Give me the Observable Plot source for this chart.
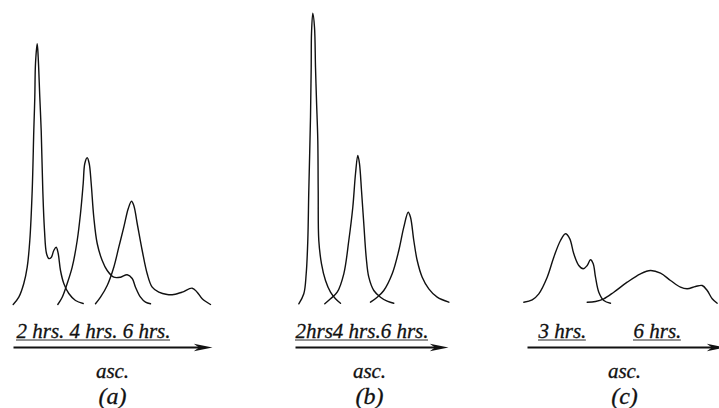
<!DOCTYPE html>
<html>
<head>
<meta charset="utf-8">
<script src="https://cdn.jsdelivr.net/npm/d3@7"></script>
<script src="https://cdn.jsdelivr.net/npm/@observablehq/plot@0.6"></script>
<style>
  html, body { margin: 0; padding: 0; background: #fff; overflow: hidden; }
  #chart svg { display: block; }
</style>
</head>
<body>
<div id="chart"></div>
<script>
// ---- Panel (a): elution position vs. absorbance, three fractions ----
const a2hPos = [12.7,18.3,23.3,26.7,29.3,31.7,33.3,34.3,35,36.7,37.7,39.3,40.7,42.3,44,46,48.3,50.7,53.3,55.7,57.7,60,63.3,68.3,75,82.7];
const a2hAbs = [0,7.3,21,37.3,64,114,174,207.3,241,260.7,247.3,207.3,174,114,74,51,46,47,54,57.3,51,34,21,11,4,1];
const a4hPos = [57.3,61.7,66.7,71.7,76.7,80,82.7,84.3,86.7,88.7,90.7,93.3,96.7,101.7,106.7,113.3,120,126.7,131.7,135,140,145,150];
const a4hAbs = [0,7.3,21,37.3,64,91,121,141,146.7,141,121,87.3,61,44,34,27.3,27.3,29.7,26,17.3,7.3,2.3,0.7];
const a6hPos = [95,100,106.7,113.3,118.3,123.3,127.7,131,133.3,136.7,141.7,146.7,151.7,158.3,166.7,173.3,181.7,191.7,196.7,201.7,210];
const a6hAbs = [0.7,7.3,19,37.3,57.3,77.3,95.7,103.3,99,81,54,30.7,17.3,12.3,10,10,12.3,16.3,12.3,5.7,0];

// ---- Panel (b) ----
const b2hPos = [298.3,303.3,305.7,307.3,308.3,310,310.7,311,312.3,314,315,316,317.3,317.7,318.3,321,325,330,335,340];
const b2hAbs = [0.7,10.7,30.7,64,114,187.3,237.3,271,291.3,277.3,237.3,204,164,114,64,40.7,24,12.3,5.7,1.3];
const b4hPos = [324.3,330,336.7,343.3,348.3,352.3,355,357.3,359,361,363.3,365.7,368.3,373.3,380,386.7,393.3];
const b4hAbs = [0.7,5.7,12.3,30.7,64,97.3,130.7,149,140.7,114,80.7,47.3,27.3,14,7.3,3.3,1.3];
const b6hPos = [370,376.7,383.3,391.7,398.3,403.3,407.7,410,413.3,416.7,421.7,428.3,436.7,448.3];
const b6hAbs = [2.3,7.3,14,30.7,54,77.3,92.3,87.3,64,44,27.3,15.7,7.3,2.3];

// ---- Panel (c) ----
const c3hPos = [523.3,531.7,538.3,546.7,553.3,560,565,569.3,573.3,578.3,582.7,586.7,590,592.7,595,598.3,603.3,610];
const c3hAbs = [2.3,4.7,10.7,27.3,47.3,64,70.7,65.7,50.7,39,35.7,39,44.7,40.7,27.3,12.3,4,1.3];
const c6hPos = [586.7,595,603.3,613.3,626.7,640,650,660,670,680,686.7,695,701.7,706.7,711.7,716.7];
const c6hAbs = [2.3,3,5.7,12.3,22.3,30.7,34,31.3,24,17.3,15.7,18,19,14,5.7,1.3];

// ---- Texts ----
const timeLabelText = ["2 hrs. 4 hrs. 6 hrs.", "2hrs4 hrs.6 hrs.", "3 hrs.", "6 hrs."];
const timeLabelPos  = [16, 295, 538, 633];
const arrowStart = [13, 295, 527];
const arrowEnd   = [212, 448, 725];
const panelNames  = ["(a)", "(b)", "(c)"];
const panelCenter = [112, 369, 624];
const directionText = "asc.";

// level (in absorbance units, below baseline) of text rows
const labelLevel = -33, underlineLevel = -35.5, arrowLevel = -43, ascLevel = -73.5, panelLevel = -99;

const ink = "#111";
const serif = "Liberation Serif, DejaVu Serif, serif";
const labelSize = 21;

const curves = [
  ["a2", a2hPos, a2hAbs], ["a4", a4hPos, a4hAbs], ["a6", a6hPos, a6hAbs],
  ["b2", b2hPos, b2hAbs], ["b4", b4hPos, b4hAbs], ["b6", b6hPos, b6hAbs],
  ["c3", c3hPos, c3hAbs], ["c6", c6hPos, c6hAbs]
];
const rows = curves.flatMap(([id, xs, ys]) => xs.map((x, i) => ({id, x, y: ys[i]})));

const measure = document.createElement("canvas").getContext("2d");
measure.font = `italic ${labelSize}px ${serif}`;
const timeLabels = timeLabelText.map((text, i) => ({
  text, x: timeLabelPos[i], w: measure.measureText(text).width
}));
const arrows = arrowStart.map((x1, i) => ({x1, x2: arrowEnd[i]}));
const panels = panelNames.map((name, i) => ({name, x: panelCenter[i]}));

const arrowHead = {
  draw(ctx, size) {
    const r = Math.sqrt(size / Math.PI);
    ctx.moveTo(0, 0);
    ctx.lineTo(-2.2 * r, -0.45 * r);
    ctx.lineTo(-1.6 * r, 0);
    ctx.lineTo(-2.2 * r, 0.45 * r);
    ctx.closePath();
  }
};

const chart = Plot.plot({
  width: 719,
  height: 408,
  margin: 0,
  style: {background: "#fff", fontFamily: serif},
  x: {domain: [0, 719], range: [0, 719], axis: null},
  y: {domain: [0, 300], range: [304, 4], axis: null},
  marks: [
    Plot.line(rows, {x: "x", y: "y", z: "id", curve: "catmull-rom", stroke: ink, strokeWidth: 1.4}),
    Plot.text(timeLabels, {x: "x", y: labelLevel, text: "text", textAnchor: "start", lineAnchor: "bottom",
      fontFamily: serif, fontStyle: "italic", fontSize: labelSize, fill: ink, stroke: ink, strokeWidth: 0.3}),
    Plot.ruleY(timeLabels, {x1: "x", x2: d => d.x + d.w, y: underlineLevel, stroke: ink, strokeWidth: 0.9}),
    Plot.link(arrows, {x1: "x1", x2: d => d.x2 - 12, y1: arrowLevel, y2: arrowLevel, stroke: ink, strokeWidth: 1.8}),
    Plot.dot(arrows, {x: "x2", y: arrowLevel, symbol: arrowHead, r: 8.5, fill: ink, stroke: "none"}),
    Plot.text(panels, {x: "x", y: ascLevel, text: () => directionText, lineAnchor: "bottom",
      fontFamily: serif, fontStyle: "italic", fontSize: 21, fill: ink, stroke: ink, strokeWidth: 0.3}),
    Plot.text(panels, {x: "x", y: panelLevel, text: "name", lineAnchor: "bottom",
      fontFamily: serif, fontStyle: "italic", fontSize: 24, fill: ink, stroke: ink, strokeWidth: 0.3})
  ]
});

document.getElementById("chart").append(chart);
</script>
</body>
</html>
